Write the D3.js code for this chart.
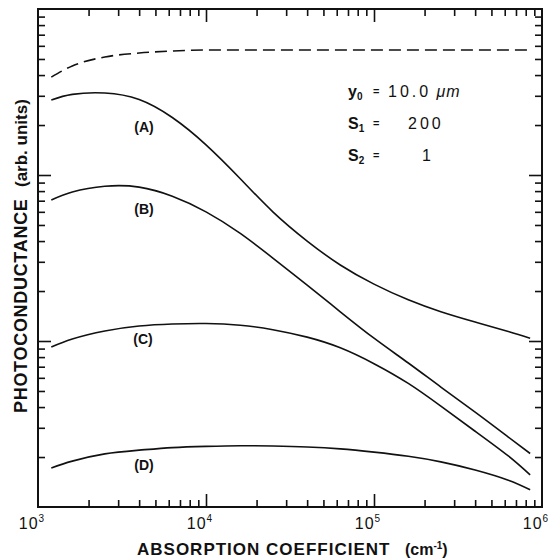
<!DOCTYPE html>
<html>
<head>
<meta charset="utf-8">
<script src="https://cdn.jsdelivr.net/npm/d3@7"></script>
<style>
body { margin: 0; background: #fff; }
text { font-family: "Liberation Sans", Arial, sans-serif; fill: #111; }
.tk line { stroke: #111; stroke-width: 1.6px; }
.curve { fill: none; stroke: #111; stroke-width: 1.6px; }
</style>
</head>
<body>
<div id="chart"></div>
<script>
// absorption coefficient (cm^-1) sampled along each curve
var alpha = [1.2e3, 1.6e3, 2.5e3, 4e3, 6.3e3, 1e4, 1.6e4, 2.5e4, 4e4, 6.3e4, 1e5, 1.6e5, 2.5e5, 4e5, 6.3e5, 8.5e5];
// photoconductance (arb. units)
var curveA = [283, 306, 312, 285, 222, 152, 95, 60, 40, 28.7, 22.0, 17.7, 15.0, 13.0, 11.4, 10.4];
var curveB = [70.7, 79.0, 85.5, 84.5, 74.5, 60.0, 44.5, 31.6, 21.7, 15.0, 10.4, 7.37, 5.28, 3.73, 2.64, 2.10];
var curveC = [9.20, 10.28, 11.49, 12.31, 12.66, 12.75, 12.45, 11.7, 10.55, 9.1, 7.3, 5.55, 4.05, 2.86, 2.03, 1.56];
var curveD = [1.72, 1.89, 2.09, 2.20, 2.28, 2.32, 2.34, 2.33, 2.30, 2.24, 2.14, 2.02, 1.87, 1.67, 1.45, 1.27];
var dashAlpha = [1.2e3, 1.6e3, 2.5e3, 4e3, 6.3e3, 1e4, 1e5, 8.5e5];
var dashVal = [389, 454, 514, 543, 558, 566, 566, 566];

var curveLabels = ["(A)", "(B)", "(C)", "(D)"];
var xDecades = [1e3, 1e4, 1e5, 1e6];
var xExp = ["3", "4", "5", "6"];

(function () {
  'use strict'

  var margin = {top: 9, right: 10, bottom: 52, left: 38},
      width = 552 - margin.left - margin.right,
      height = 559 - margin.top - margin.bottom;

  var x = d3.scaleLog().domain([1e3, 1e6]).range([0, width]);
  var y = d3.scaleLog().domain([1, 1e3]).range([height, 0]);

  var svg = d3.select("#chart").append("svg")
      .attr("width", width + margin.left + margin.right)
      .attr("height", height + margin.top + margin.bottom);
  var g = svg.append("g")
      .attr("transform", "translate(" + margin.left + "," + margin.top + ")");

  // minor / major log ticks
  var xMinor = [], yMinor = [];
  [1e3, 1e4, 1e5].forEach(function (d) {
    for (var k = 2; k <= 9; k++) xMinor.push(d * k);
  });
  [1, 10, 100].forEach(function (d) {
    for (var k = 2; k <= 9; k++) yMinor.push(d * k);
  });
  var xMajor = [1e4, 1e5], yMajor = [10, 100];

  function addAxis(axisFn, scale, vals, size, tr) {
    var a = g.append("g").attr("class", "tk")
        .attr("transform", tr)
        .call(axisFn(scale).tickValues(vals).tickSize(-size).tickFormat(""));
    a.select(".domain").remove();
  }
  addAxis(d3.axisBottom, x, xMinor, 7, "translate(0," + height + ")");
  addAxis(d3.axisBottom, x, xMajor, 13, "translate(0," + height + ")");
  addAxis(d3.axisTop, x, xMinor, 7, "translate(0,0)");
  addAxis(d3.axisTop, x, xMajor, 13, "translate(0,0)");
  addAxis(d3.axisLeft, y, yMinor, 7, "translate(0,0)");
  addAxis(d3.axisLeft, y, yMajor, 13, "translate(0,0)");
  addAxis(d3.axisRight, y, yMinor, 7, "translate(" + width + ",0)");
  addAxis(d3.axisRight, y, yMajor, 13, "translate(" + width + ",0)");

  g.append("rect")
      .attr("width", width).attr("height", height)
      .attr("fill", "none").attr("stroke", "#111").attr("stroke-width", 2);

  // curves
  var line = d3.line()
      .x(function (d) { return x(d[0]); })
      .y(function (d) { return y(d[1]); })
      .curve(d3.curveNatural);

  [curveA, curveB, curveC, curveD].forEach(function (vals) {
    g.append("path").attr("class", "curve")
        .attr("d", line(alpha.map(function (a, i) { return [a, vals[i]]; })));
  });

  g.append("path").attr("class", "curve")
      .attr("stroke-dasharray", "12,6")
      .attr("d", line.curve(d3.curveMonotoneX)(dashAlpha.map(function (a, i) { return [a, dashVal[i]]; })));

  // curve labels
  var labelPos = [[106, 123], [106, 205], [105, 335], [106, 461]];
  g.selectAll(".clab").data(curveLabels).enter().append("text")
      .attr("class", "clab")
      .attr("x", function (d, i) { return labelPos[i][0]; })
      .attr("y", function (d, i) { return labelPos[i][1]; })
      .attr("text-anchor", "middle")
      .style("font-size", "14px").style("font-weight", "bold")
      .text(function (d) { return d; });

  // x tick labels
  var xl = g.selectAll(".xl").data(xDecades).enter().append("text")
      .attr("class", "xl")
      .attr("x", function (d) { return x(d) - 6; })
      .attr("y", height + 22)
      .attr("text-anchor", "middle")
      .style("font-size", "16px").style("letter-spacing", "1px");
  xl.append("tspan").text("10");
  xl.append("tspan").attr("dy", -7).style("font-size", "10px")
      .text(function (d, i) { return xExp[i]; });

  // axis titles
  var xt = svg.append("text").attr("x", 137).attr("y", 555)
      .style("font-size", "17px").style("font-weight", "bold").style("letter-spacing", "1px");
  xt.append("tspan").text("ABSORPTION COEFFICIENT");
  var xu = svg.append("text").attr("x", 405).attr("y", 555)
      .style("font-size", "16px").style("font-weight", "bold");
  xu.append("tspan").text("(cm");
  xu.append("tspan").attr("dy", -6).style("font-size", "10px").text("-1");
  xu.append("tspan").attr("dy", 6).text(")");

  svg.append("text")
      .attr("transform", "translate(27,413) rotate(-90)")
      .style("font-size", "18px").style("font-weight", "bold").style("letter-spacing", "0.7px")
      .text("PHOTOCONDUCTANCE");
  svg.append("text")
      .attr("transform", "translate(27,187) rotate(-90)")
      .style("font-size", "17px").style("font-weight", "bold")
      .text("(arb. units)");

  // parameters
  var rows = [
    {sym: "y", sub: "0", val: "10.0", unit: " \u03bcm", by: 97, vx: 388},
    {sym: "S", sub: "1", val: "200", unit: "", by: 129, vx: 408},
    {sym: "S", sub: "2", val: "1", unit: "", by: 161, vx: 422}
  ];
  rows.forEach(function (r) {
    var t = svg.append("text").attr("x", 348).attr("y", r.by)
        .style("font-size", "16px").style("font-weight", "bold");
    t.append("tspan").text(r.sym);
    t.append("tspan").attr("dy", 3).style("font-size", "10px").text(r.sub);
    svg.append("text").attr("x", 373).attr("y", r.by - 2)
        .style("font-size", "11px").style("font-weight", "bold").text("=");
    var v = svg.append("text").attr("x", r.vx).attr("y", r.by)
        .style("font-size", "16px").style("letter-spacing", "3px");
    v.append("tspan").text(r.val);
    if (r.unit) v.append("tspan").style("font-style", "italic").style("letter-spacing", "1px").text(r.unit);
  });
})()
</script>
</body>
</html>
